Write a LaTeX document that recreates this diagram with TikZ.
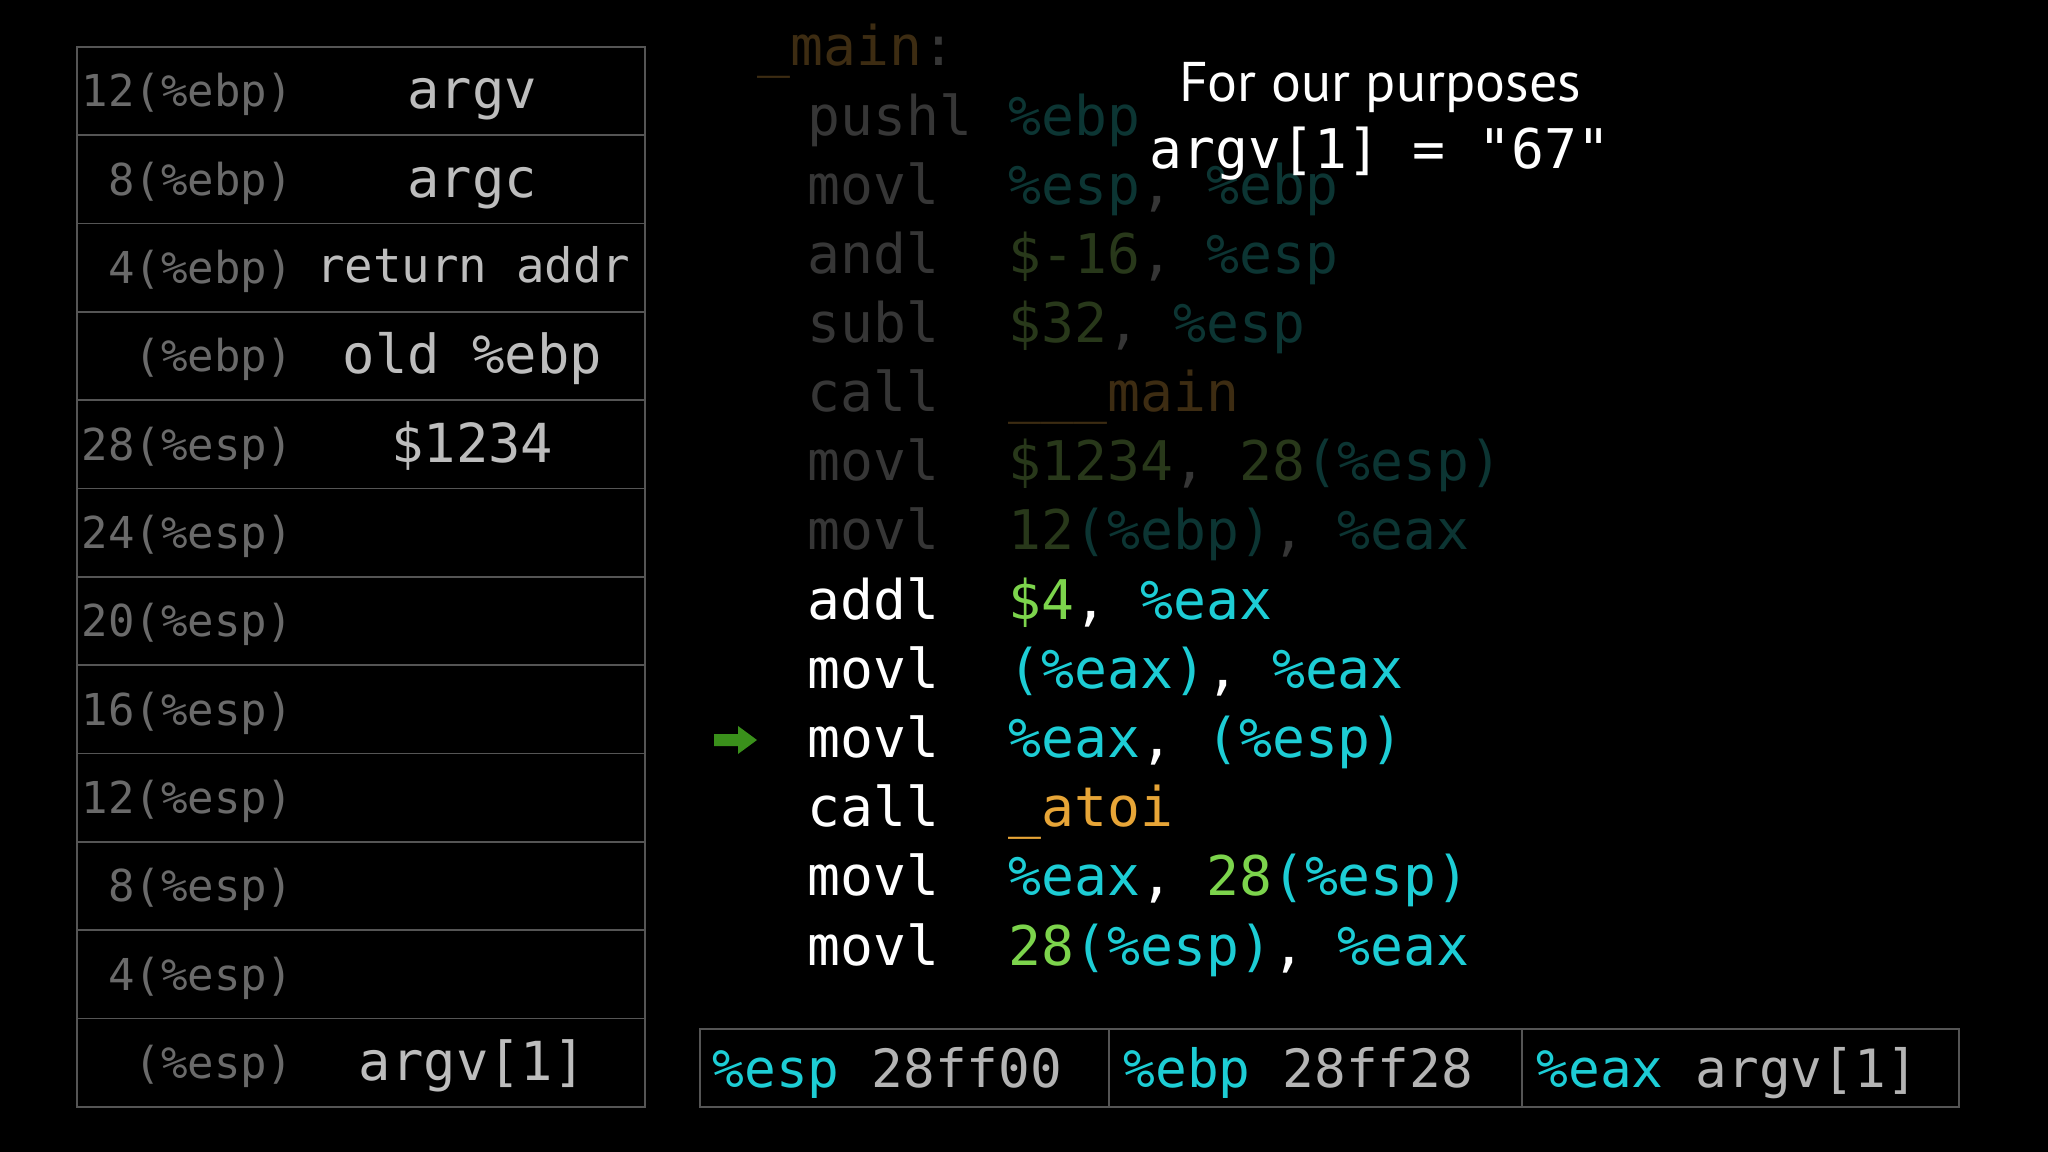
\documentclass[tikz,border=0pt]{standalone}
\usepackage{fontspec}
\newfontfamily\codefont{DejaVu Sans Mono}
\newfontfamily\titlefont{PT Sans}
\definecolor{gridc}{HTML}{555555}
\definecolor{lblc}{HTML}{6A6A6A}
\definecolor{valc}{HTML}{BDBDBD}
\definecolor{dimw}{HTML}{363636}
\definecolor{dimt}{HTML}{0C3533}
\definecolor{dimg}{HTML}{28381A}
\definecolor{dimb}{HTML}{3D2C12}
\definecolor{cyn}{HTML}{1DCDD5}
\definecolor{grn}{HTML}{7CD44C}
\definecolor{org}{HTML}{E7A537}
\definecolor{arrc}{HTML}{3A901B}
\definecolor{regv}{HTML}{B4B4B4}
\begin{document}
\begin{tikzpicture}[x=0.01cm,y=-0.01cm,
  cell/.style={draw=gridc, line width=0.45pt, minimum width=5.68cm, minimum height=0.8833cm, inner sep=0, anchor=north west},
  lbl/.style={anchor=base east, inner sep=0, text=lblc, font=\codefont\fontsize{12.5}{14}\selectfont},
  val/.style={anchor=base, inner sep=0, text=valc, font=\codefont\fontsize{15.3}{18}\selectfont},
  code/.style={anchor=base west, inner sep=0, font=\codefont\fontsize{15.55}{18}\selectfont},
  regbox/.style={draw=gridc, line width=0.45pt, minimum height=0.78cm, inner sep=0, anchor=north west},
  regtxt/.style={anchor=base west, inner sep=0, font=\codefont\fontsize{15}{18}\selectfont}]
\fill[black] (0,0) rectangle (2048,1152);
\useasboundingbox (0,0) rectangle (2048,1152);
% stack table
\foreach \i/\l/\v in {1/12(\%ebp)/argv, 2/8(\%ebp)/argc, 3/4(\%ebp)/{}, 4/(\%ebp)/old \%ebp, 5/28(\%esp)/\$1234, 6/24(\%esp)/{}, 7/20(\%esp)/{}, 8/16(\%esp)/{}, 9/12(\%esp)/{}, 10/8(\%esp)/{}, 11/4(\%esp)/{}, 12/(\%esp)/{argv[1]}}{
  \node[cell] (row\i) at (76,{46+88.33*(\i-1)}) {};
  \node[lbl] (lab\i) at ([xshift=2.18cm,yshift=-0.16cm]row\i.west) {\l};
  \node[val] (val\i) at ([xshift=3.96cm,yshift=-0.18cm]row\i.west) {\v};
}
\node[val, font=\codefont\fontsize{13.5}{16}\selectfont] (val3b) at ([xshift=3.97cm,yshift=-0.15cm]row3.west) {return addr};
% code listing
\def\bx{807}
\def\ox{1008}
\node[code] (c0) at (757,66) {\textcolor{dimb}{\_main}\textcolor{dimw}{:}};
\node[code,text=dimw] (m1) at (\bx,135.1) {pushl};
\node[code] (o1) at (\ox,135.1) {\textcolor{dimt}{\%ebp}};
\node[code,text=dimw] (m2) at (\bx,204.2) {movl};
\node[code] (o2) at (\ox,204.2) {\textcolor{dimt}{\%esp}\textcolor{dimw}{, }\textcolor{dimt}{\%ebp}};
\node[code,text=dimw] (m3) at (\bx,273.3) {andl};
\node[code] (o3) at (\ox,273.3) {\textcolor{dimg}{\$-16}\textcolor{dimw}{, }\textcolor{dimt}{\%esp}};
\node[code,text=dimw] (m4) at (\bx,342.4) {subl};
\node[code] (o4) at (\ox,342.4) {\textcolor{dimg}{\$32}\textcolor{dimw}{, }\textcolor{dimt}{\%esp}};
\node[code,text=dimw] (m5) at (\bx,411.5) {call};
\node[code] (o5) at (\ox,411.5) {\textcolor{dimb}{\_\_\_main}};
\node[code,text=dimw] (m6) at (\bx,480.6) {movl};
\node[code] (o6) at (\ox,480.6) {\textcolor{dimg}{\$1234}\textcolor{dimw}{, }\textcolor{dimg}{28}\textcolor{dimt}{(\%esp)}};
\node[code,text=dimw] (m7) at (\bx,549.7) {movl};
\node[code] (o7) at (\ox,549.7) {\textcolor{dimg}{12}\textcolor{dimt}{(\%ebp)}\textcolor{dimw}{, }\textcolor{dimt}{\%eax}};
\node[code,text=white] (m8) at (\bx,619.5) {addl};
\node[code,text=white] (o8) at (\ox,619.5) {\textcolor{grn}{\$4}, \textcolor{cyn}{\%eax}};
\node[code,text=white] (m9) at (\bx,688.6) {movl};
\node[code,text=white] (o9) at (\ox,688.6) {\textcolor{cyn}{(\%eax)}, \textcolor{cyn}{\%eax}};
\node[code,text=white] (m10) at (\bx,757.7) {movl};
\node[code,text=white] (o10) at (\ox,757.7) {\textcolor{cyn}{\%eax}, \textcolor{cyn}{(\%esp)}};
\node[code,text=white] (m11) at (\bx,826.8) {call};
\node[code,text=white] (o11) at (\ox,826.8) {\textcolor{org}{\_atoi}};
\node[code,text=white] (m12) at (\bx,895.9) {movl};
\node[code,text=white] (o12) at (\ox,895.9) {\textcolor{cyn}{\%eax}, \textcolor{grn}{28}\textcolor{cyn}{(\%esp)}};
\node[code,text=white] (m13) at (\bx,965) {movl};
\node[code,text=white] (o13) at (\ox,965) {\textcolor{grn}{28}\textcolor{cyn}{(\%esp)}, \textcolor{cyn}{\%eax}};
% current-instruction arrow
\fill[arrc] (714,734) -- (738,734) -- (738,726) -- (757,740) -- (738,754) -- (738,746) -- (714,746) -- cycle;
% note
\node[anchor=base, inner sep=0, text=white, font=\titlefont\fontsize{15.9}{20}\selectfont] (t1) at (1380,102) {For our purposes};
\node[anchor=base, inner sep=0, text=white, font=\codefont\fontsize{15.55}{18}\selectfont] (t2) at (1380,169) {argv[1] = "67"};
% registers
\node[regbox, minimum width=4.09cm] (esp) at (699,1028) {};
\node[regbox, minimum width=4.13cm] (ebp) at (1108,1028) {};
\node[regbox, minimum width=4.37cm] (eax) at (1521,1028) {};
\node[regtxt] (espt) at (712,1087) {\textcolor{cyn}{\%esp} \textcolor{regv}{28ff00}};
\node[regtxt] (ebpt) at (1123,1087) {\textcolor{cyn}{\%ebp} \textcolor{regv}{28ff28}};
\node[regtxt] (eaxt) at (1536,1087) {\textcolor{cyn}{\%eax} \textcolor{regv}{argv[1]}};
\end{tikzpicture}
\end{document}
